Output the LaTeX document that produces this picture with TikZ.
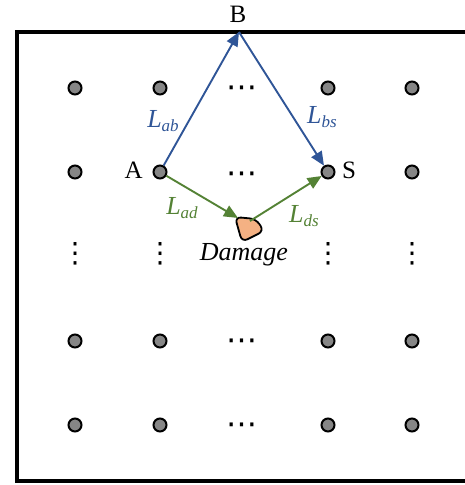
\documentclass[tikz,border=0pt]{standalone}
\usepackage{fontspec}
\setmainfont{Liberation Serif}
\newfontfamily\dotfont{DejaVu Sans}
\usetikzlibrary{arrows.meta}
\definecolor{ablue}{HTML}{2F5597}
\definecolor{agreen}{HTML}{548235}
\definecolor{dmg}{HTML}{F4B183}
\tikzset{
  pt/.style={circle,draw=black,fill=gray!95!white,line width=2pt,minimum size=13pt,inner sep=0pt},
  lbl/.style={font=\fontsize{25}{27}\selectfont,inner sep=0pt},
  sub/.style={font=\fontsize{26}{28}\selectfont\itshape,inner sep=0pt},
  hd/.style={font=\dotfont\fontsize{31}{31}\selectfont,inner sep=0pt},
  vd/.style={font=\dotfont\fontsize{28}{28}\selectfont,inner sep=0pt},
  barr/.style={draw=ablue,line width=1.9pt,-{Triangle[length=14pt,width=12pt]}},
  garr/.style={draw=agreen,line width=1.9pt,-{Triangle[length=14pt,width=12pt]}}
}
\newcommand{\Lsub}[1]{L\raisebox{-0.3ex}{\fontsize{17}{17}\selectfont #1}}
\begin{document}
\begin{tikzpicture}[x=1pt,y=-1pt]
\useasboundingbox (0,0) rectangle (465,485);
\begin{scope}
\clip (0,0) rectangle (465,485);
\draw[line width=4pt] (17,32) rectangle (480,481);
\end{scope}
% grid points
\foreach \x/\c in {75/a,160/b,328/d,412/e}{
  \foreach \y/\r in {88/1,172/2,341/4,425/5}{
    \node[pt] (p\c\r) at (\x,\y) {};
  }
  \node[vd] (v\c) at (\x,254) {⋮};
}
\foreach \y/\r in {92/1,178/2,345/4,429/5}{
  \node[hd] (h\r) at (242,\y) {⋯};
}
\node[lbl,anchor=east] (A) at (143,170) {A};
\node[lbl,anchor=west] (S) at (342,170) {S};
\node[lbl] (Blab) at (238,14) {B};
\coordinate (B) at (239,32);
% damage
\filldraw[fill=dmg,draw=black,line width=1.8pt,rounded corners=6pt]
  (235,217) -- (256,219) -- (264,231) -- (242,242) -- cycle;
\coordinate (D) at (238,218);
\coordinate (D2) at (250,221);
\node[sub] (dm) at (244,255) {Damage};
% arrows
\draw[barr] (pb2) -- (B);
\draw[barr] (B) -- (pd2);
\draw[garr] (pb2) -- (D);
\draw[garr] (D2) -- (pd2);
% labels
\node[sub,text=ablue] (lab) at (163,121) {\Lsub{ab}};
\node[sub,text=ablue] (lbs) at (322,117) {\Lsub{bs}};
\node[sub,text=agreen] (lad) at (182,208) {\Lsub{ad}};
\node[sub,text=agreen] (lds) at (304,216) {\Lsub{ds}};
\end{tikzpicture}
\end{document}
